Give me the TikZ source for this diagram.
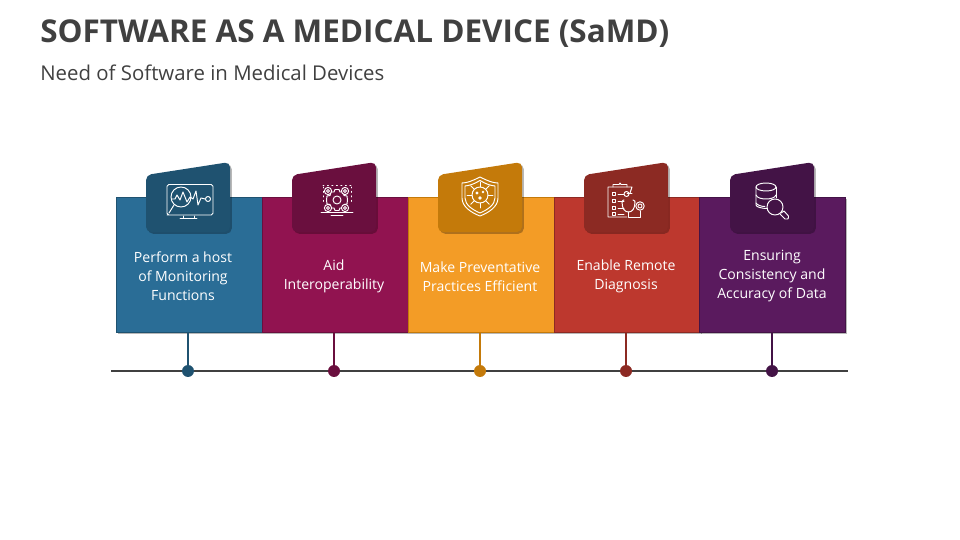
\documentclass[tikz,border=0pt]{standalone}
\usepackage{fontspec}
\setmainfont{Open Sans}
\usetikzlibrary{positioning}
\usetikzlibrary{shadows}

\definecolor{titlegrey}{HTML}{404040}
\definecolor{blueBox}{HTML}{2A6D96}
\definecolor{blueTab}{HTML}{1F5270}
\definecolor{wineBox}{HTML}{911350}
\definecolor{wineTab}{HTML}{6A0F3E}
\definecolor{orangeBox}{HTML}{F39C26}
\definecolor{orangeTab}{HTML}{C47A0A}
\definecolor{redBox}{HTML}{BD382E}
\definecolor{redTab}{HTML}{8C2A23}
\definecolor{plumBox}{HTML}{5A1A5E}
\definecolor{plumTab}{HTML}{431346}

\tikzset{
  softshadow/.style={drop shadow={shadow xshift=1pt,shadow yshift=-1pt,opacity=.28,fill=black}},
  cardbox/.style={rectangle,inner sep=0,outer sep=0,minimum width=2.92cm,minimum height=2.7cm,line width=.4pt},
  cardtext/.style={text=white,align=center,font=\fontsize{8}{10.8}\selectfont},
  stemdot/.style={circle,inner sep=0,minimum size=.24cm},
  iconline/.style={draw=white,line width=.55pt,line cap=round,line join=round},
}

\begin{document}
\begin{tikzpicture}[x=0.02cm,y=-0.02cm]

\useasboundingbox (0,0) rectangle (960,540);

% Titles
\node[anchor=west,inner sep=0,text=titlegrey,font=\fontsize{17.9}{20}\selectfont\bfseries] (title) at (40,34) {SOFTWARE AS A MEDICAL DEVICE (SaMD)};
\node[anchor=west,inner sep=0,text=titlegrey,font=\fontsize{11.6}{14}\selectfont] (subtitle) at (40,73) {Need of Software in Medical Devices};

% Timeline
\coordinate (lineL) at (111,371);
\coordinate (lineR) at (848,371);
\draw[titlegrey,line width=.8pt] (lineL) -- (lineR);

% Cards
\foreach \i/\xb/\xd/\xt/\colbox/\coltab/\txt in {
  1/189/188/183/blueBox/blueTab/{Perform a host\\of Monitoring\\Functions},
  2/335/334/334/wineBox/wineTab/{Aid\\Interoperability},
  3/481/480/480/orangeBox/orangeTab/{Make Preventative\\Practices Efficient},
  4/627/626/626/redBox/redTab/{Enable Remote\\Diagnosis},
  5/772.5/772/772/plumBox/plumTab/{Ensuring\\Consistency and\\Accuracy of Data}}
{
  \node[cardbox,fill=\colbox,draw=\coltab,softshadow] (box\i) at (\xb,264.5) {};
  \node[stemdot,fill=\coltab] (dot\i) at (\xd,371) {};
  \draw[\coltab,line width=.8pt] (box\i.south -| dot\i) -- (dot\i);
  \node[cardtext] (text\i) at (\xt,276.5) {\txt};
  % Tab
  \fill[\coltab,rounded corners=3pt,softshadow] (\xd-42,175) -- (\xd+42,162) -- (\xd+42,232) -- (\xd-42,232) -- cycle;
}

% Icon 1: monitor
\draw[iconline,rounded corners=1pt] (173,215) -- (167,215) -- (167,184.5) -- (213,184.5) -- (213,215) -- (167,215);
\draw[iconline] (180,218.5) -- (197,218.5) (183,216) -- (183,218) (194,216) -- (194,218);
\draw[iconline] (181,197) circle (10);
\draw[iconline] (174,205) -- (169,213);
\draw[iconline] (172,199) -- (175,199) -- (177,195) -- (180,200) -- (183,192) -- (187,202) -- (190,197) -- (193,199) -- (196,191) -- (198,205) -- (201,198) -- (205,199);
\draw[iconline] (208,199) circle (2.5);

% Icon 2: gears
\draw[iconline] (337,200) circle (4);
\draw[iconline] (326.5,200) -- (327,196) -- (330,195.5) -- (331,192) -- (334,192) -- (335,189.5) -- (339,189.5) -- (340,192) -- (343,192) -- (344,195.5) -- (347,196) -- (347.5,200) -- (347,204) -- (344,204.5) -- (343,208) -- (340,208) -- (339,210.5) -- (335,210.5) -- (334,208) -- (331,208) -- (330,204.5) -- (327,204) -- cycle;
\foreach \gx/\gy in {328/191,345/191,328/208,345/208}
  \draw[iconline,fill=wineTab] (\gx,\gy) circle (3.6) (\gx,\gy) circle (1.5);
\draw[iconline,dotted] (323,185) -- (351,185) (323,187) -- (323,203) (351,187) -- (351,203);
\draw[iconline] (321,212.5) -- (353,212.5) (331,215) -- (343,215);

% Icon 3: shield
\draw[iconline] (480,177) .. controls (472,181) and (467,183) .. (462,183) -- (462,198) .. controls (462,207) and (472,213) .. (480,216) .. controls (488,213) and (498,207) .. (498,198) -- (498,183) .. controls (493,183) and (488,181) .. (480,177) -- cycle;
\draw[iconline] (480,180.5) .. controls (474,184) and (470,185.5) .. (465,186) -- (465,198) .. controls (465,205) and (473,210) .. (480,213) .. controls (487,210) and (495,205) .. (495,198) -- (495,186) .. controls (490,185.5) and (486,184) .. (480,180.5) -- cycle;
\draw[iconline] (480,195) circle (8);
\foreach \a in {0,45,...,315}
  \draw[iconline] (480,195) ++(\a:8) -- ++(\a:5);
\fill[white] (477,193) circle (1.6) (483,192) circle (1.3) (480,198) circle (1.8);

% Icon 4: clipboard
\draw[iconline] (630,193) -- (632,187) -- (608,187) -- (608,217) -- (627,217);
\draw[iconline] (613,187) -- (613,184.5) -- (619,184.5) -- (620,183) -- (621,184.5) -- (627,184.5) -- (627,187);
\foreach \cy in {194,201,208,214}
  \draw[iconline] (612,\cy-2) rectangle (615.5,\cy+1.5) (618,\cy) -- (624,\cy);
\draw[iconline] (627,193) -- (632,193);
\draw[iconline] (626.5,194) circle (2.5);
\draw[iconline] (622,202) .. controls (622,200) and (624,200) .. (624,200) (633,200) .. controls (635,200) and (635,202) .. (635,202);
\draw[iconline] (622,202) .. controls (622,209) and (625,212) .. (628.5,212) .. controls (632,212) and (635,209) .. (635,202);
\draw[iconline] (628.5,212) -- (628.5,217) -- (640,217) -- (640,211);
\draw[iconline] (640,206) circle (4.2) (640,206) circle (2);

% Icon 5: database and lens
\draw[iconline] (766,187) ellipse (10 and 4);
\draw[iconline] (756,187) -- (756,205) .. controls (756,207) and (762,208.5) .. (767,208.5);
\draw[iconline] (776,187) -- (776,198);
\draw[iconline] (756,195) .. controls (757,198) and (762,199) .. (766,199) .. controls (770,199) and (775,198) .. (776,195);
\draw[iconline] (756,203) .. controls (757,205) and (761,206.5) .. (765,206.5);
\draw[iconline] (775,207) circle (8);
\draw[iconline] (781,213) -- (784,211) -- (788.5,216) .. controls (789,219) and (787,220) .. (785,219) -- (780,214);

\end{tikzpicture}
\end{document}
